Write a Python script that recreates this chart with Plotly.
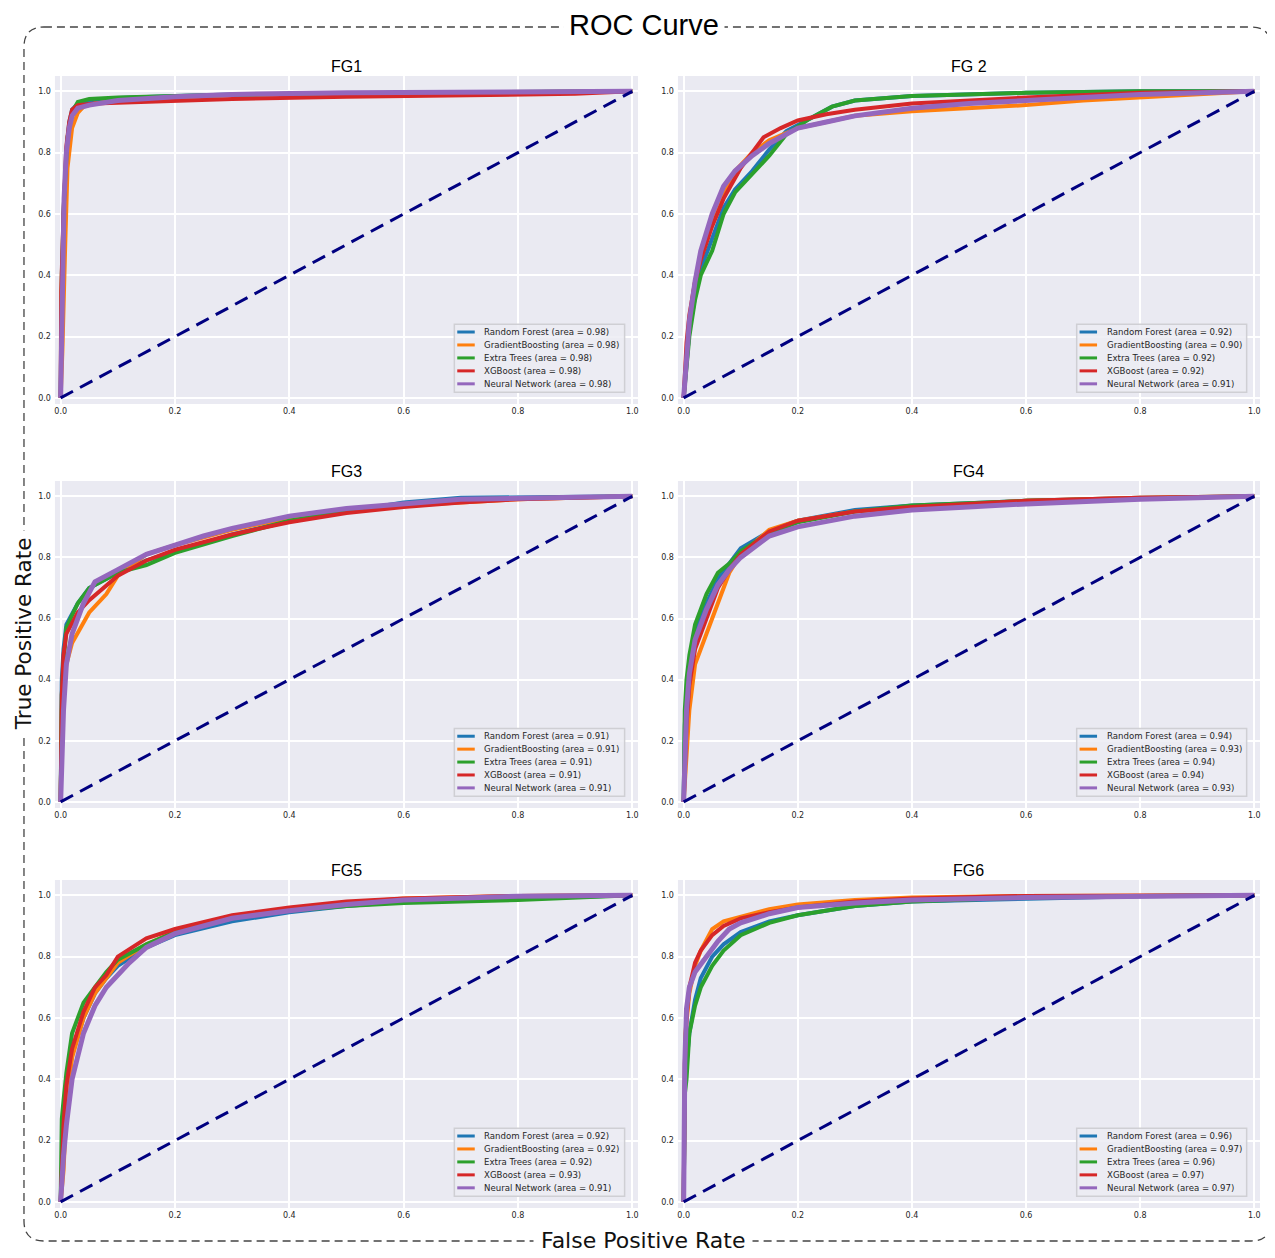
import plotly.graph_objects as go

# ---------------- data ----------------
MODELS = ["Random Forest", "GradientBoosting", "Extra Trees", "XGBoost", "Neural Network"]
COLORS = ["#1f77b4", "#ff7f0e", "#2ca02c", "#d62728", "#9467bd"]
PANEL_TITLES = ["FG1", "FG 2", "FG3", "FG4", "FG5", "FG6"]

AUC_FG1 = [0.98, 0.98, 0.98, 0.98, 0.98]
AUC_FG2 = [0.92, 0.90, 0.92, 0.92, 0.91]
AUC_FG3 = [0.91, 0.91, 0.91, 0.91, 0.91]
AUC_FG4 = [0.94, 0.93, 0.94, 0.94, 0.93]
AUC_FG5 = [0.92, 0.92, 0.92, 0.93, 0.91]
AUC_FG6 = [0.96, 0.97, 0.96, 0.97, 0.97]

DIAG_X = [0.0, 1.0]
DIAG_Y = [0.0, 1.0]
X_TICKS = [0.0, 0.2, 0.4, 0.6, 0.8, 1.0]
Y_TICKS = [0.0, 0.2, 0.4, 0.6, 0.8, 1.0]
X_TICK_LABELS = ["0.0", "0.2", "0.4", "0.6", "0.8", "1.0"]
Y_TICK_LABELS = ["0.0", "0.2", "0.4", "0.6", "0.8", "1.0"]

# FG1
FG1_RF_X = [0, 0.002, 0.005, 0.01, 0.015, 0.02, 0.03, 0.05, 0.1, 0.2, 0.3, 0.5, 0.7, 1.0]
FG1_RF_Y = [0, 0.30, 0.60, 0.80, 0.90, 0.94, 0.96, 0.97, 0.978, 0.985, 0.99, 0.994, 0.997, 1.0]
FG1_GB_X = [0, 0.003, 0.008, 0.012, 0.02, 0.03, 0.04, 0.06, 0.1, 0.2, 0.3, 0.5, 0.8, 1.0]
FG1_GB_Y = [0, 0.15, 0.50, 0.75, 0.88, 0.93, 0.95, 0.96, 0.97, 0.98, 0.988, 0.993, 0.997, 1.0]
FG1_ET_X = [0, 0.002, 0.006, 0.012, 0.02, 0.03, 0.05, 0.1, 0.2, 0.4, 0.7, 1.0]
FG1_ET_Y = [0, 0.40, 0.65, 0.85, 0.93, 0.965, 0.975, 0.98, 0.985, 0.992, 0.997, 1.0]
FG1_XGB_X = [0, 0.001, 0.005, 0.01, 0.015, 0.02, 0.03, 0.06, 0.1, 0.2, 0.3, 0.5, 0.7, 0.9, 1.0]
FG1_XGB_Y = [0, 0.35, 0.60, 0.82, 0.90, 0.94, 0.955, 0.96, 0.963, 0.97, 0.975, 0.982, 0.988, 0.992, 1.0]
FG1_NN_X = [0, 0.003, 0.006, 0.01, 0.015, 0.02, 0.03, 0.05, 0.1, 0.2, 0.3, 0.5, 0.8, 1.0]
FG1_NN_Y = [0, 0.45, 0.65, 0.80, 0.88, 0.92, 0.945, 0.955, 0.97, 0.982, 0.99, 0.995, 0.998, 1.0]

# FG2
FG2_RF_X = [0, 0.005, 0.01, 0.02, 0.03, 0.05, 0.07, 0.09, 0.12, 0.15, 0.18, 0.22, 0.26, 0.3, 0.4, 0.6, 0.8, 1.0]
FG2_RF_Y = [0, 0.12, 0.22, 0.33, 0.42, 0.52, 0.62, 0.68, 0.74, 0.81, 0.87, 0.91, 0.95, 0.97, 0.985, 0.995, 1.0, 1.0]
FG2_GB_X = [0, 0.005, 0.01, 0.02, 0.03, 0.05, 0.07, 0.09, 0.12, 0.15, 0.2, 0.25, 0.3, 0.4, 0.5, 0.6, 0.7, 0.8, 0.9, 1.0]
FG2_GB_Y = [0, 0.15, 0.25, 0.38, 0.46, 0.57, 0.66, 0.74, 0.80, 0.84, 0.88, 0.90, 0.92, 0.935, 0.945, 0.955, 0.97, 0.98, 0.99, 1.0]
FG2_ET_X = [0, 0.005, 0.01, 0.02, 0.03, 0.05, 0.07, 0.09, 0.12, 0.15, 0.18, 0.22, 0.26, 0.3, 0.4, 0.6, 0.8, 1.0]
FG2_ET_Y = [0, 0.10, 0.20, 0.32, 0.40, 0.48, 0.60, 0.67, 0.73, 0.79, 0.86, 0.91, 0.95, 0.97, 0.985, 0.995, 1.0, 1.0]
FG2_XGB_X = [0, 0.005, 0.01, 0.02, 0.03, 0.05, 0.07, 0.1, 0.12, 0.14, 0.17, 0.2, 0.25, 0.3, 0.4, 0.6, 0.8, 1.0]
FG2_XGB_Y = [0, 0.18, 0.27, 0.38, 0.45, 0.56, 0.65, 0.75, 0.80, 0.85, 0.88, 0.905, 0.925, 0.94, 0.96, 0.98, 0.995, 1.0]
FG2_NN_X = [0, 0.005, 0.01, 0.02, 0.03, 0.05, 0.07, 0.09, 0.12, 0.15, 0.2, 0.25, 0.3, 0.4, 0.5, 0.6, 0.8, 1.0]
FG2_NN_Y = [0, 0.15, 0.25, 0.38, 0.48, 0.60, 0.69, 0.74, 0.79, 0.83, 0.88, 0.90, 0.92, 0.945, 0.96, 0.97, 0.99, 1.0]

# FG3
FG3_RF_X = [0, 0.002, 0.005, 0.01, 0.03, 0.05, 0.1, 0.15, 0.2, 0.3, 0.4, 0.5, 0.6, 0.7, 1.0]
FG3_RF_Y = [0, 0.40, 0.50, 0.58, 0.65, 0.70, 0.75, 0.79, 0.82, 0.875, 0.92, 0.95, 0.98, 0.995, 1.0]
FG3_GB_X = [0, 0.002, 0.005, 0.01, 0.02, 0.05, 0.08, 0.1, 0.15, 0.2, 0.3, 0.4, 0.5, 0.6, 0.7, 0.8, 1.0]
FG3_GB_Y = [0, 0.30, 0.38, 0.45, 0.52, 0.62, 0.68, 0.74, 0.81, 0.84, 0.89, 0.93, 0.95, 0.97, 0.98, 0.99, 1.0]
FG3_ET_X = [0, 0.002, 0.005, 0.01, 0.03, 0.05, 0.1, 0.15, 0.2, 0.3, 0.4, 0.5, 0.6, 0.7, 1.0]
FG3_ET_Y = [0, 0.35, 0.45, 0.57, 0.65, 0.70, 0.75, 0.775, 0.815, 0.87, 0.92, 0.95, 0.975, 0.99, 1.0]
FG3_XGB_X = [0, 0.002, 0.005, 0.01, 0.03, 0.05, 0.1, 0.15, 0.2, 0.3, 0.4, 0.5, 0.6, 0.7, 0.8, 1.0]
FG3_XGB_Y = [0, 0.35, 0.48, 0.55, 0.62, 0.66, 0.74, 0.79, 0.825, 0.875, 0.915, 0.945, 0.965, 0.98, 0.99, 1.0]
FG3_NN_X = [0, 0.002, 0.005, 0.01, 0.02, 0.04, 0.06, 0.1, 0.15, 0.2, 0.25, 0.3, 0.4, 0.5, 0.6, 0.7, 1.0]
FG3_NN_Y = [0, 0.20, 0.30, 0.45, 0.55, 0.65, 0.72, 0.76, 0.81, 0.84, 0.87, 0.895, 0.935, 0.96, 0.975, 0.99, 1.0]

# FG4
FG4_RF_X = [0, 0.002, 0.005, 0.01, 0.02, 0.04, 0.06, 0.08, 0.1, 0.15, 0.2, 0.3, 0.4, 0.6, 0.8, 1.0]
FG4_RF_Y = [0, 0.25, 0.35, 0.45, 0.55, 0.65, 0.73, 0.78, 0.83, 0.885, 0.92, 0.955, 0.97, 0.985, 0.995, 1.0]
FG4_GB_X = [0, 0.002, 0.005, 0.01, 0.02, 0.04, 0.06, 0.08, 0.1, 0.15, 0.2, 0.3, 0.4, 0.6, 0.8, 1.0]
FG4_GB_Y = [0, 0.05, 0.15, 0.30, 0.45, 0.55, 0.65, 0.75, 0.81, 0.89, 0.92, 0.95, 0.965, 0.985, 0.995, 1.0]
FG4_ET_X = [0, 0.002, 0.005, 0.01, 0.02, 0.04, 0.06, 0.08, 0.1, 0.15, 0.2, 0.3, 0.4, 0.6, 0.8, 0.9, 1.0]
FG4_ET_Y = [0, 0.30, 0.40, 0.48, 0.58, 0.68, 0.75, 0.78, 0.82, 0.88, 0.915, 0.95, 0.97, 0.985, 0.993, 0.995, 1.0]
FG4_XGB_X = [0, 0.002, 0.005, 0.01, 0.02, 0.04, 0.06, 0.08, 0.1, 0.15, 0.2, 0.3, 0.4, 0.6, 0.8, 1.0]
FG4_XGB_Y = [0, 0.15, 0.25, 0.38, 0.50, 0.60, 0.70, 0.76, 0.81, 0.885, 0.92, 0.95, 0.965, 0.985, 0.995, 1.0]
FG4_NN_X = [0, 0.002, 0.005, 0.01, 0.02, 0.04, 0.06, 0.08, 0.1, 0.15, 0.2, 0.3, 0.4, 0.6, 0.8, 1.0]
FG4_NN_Y = [0, 0.20, 0.30, 0.42, 0.53, 0.63, 0.71, 0.76, 0.80, 0.87, 0.90, 0.935, 0.955, 0.975, 0.99, 1.0]

# FG5
FG5_RF_X = [0, 0.002, 0.005, 0.01, 0.02, 0.04, 0.06, 0.08, 0.1, 0.15, 0.2, 0.3, 0.4, 0.5, 0.6, 0.8, 1.0]
FG5_RF_Y = [0, 0.12, 0.20, 0.35, 0.48, 0.60, 0.68, 0.73, 0.77, 0.83, 0.87, 0.915, 0.945, 0.965, 0.98, 0.99, 1.0]
FG5_GB_X = [0, 0.002, 0.005, 0.01, 0.02, 0.04, 0.06, 0.08, 0.1, 0.15, 0.2, 0.3, 0.4, 0.5, 0.6, 0.8, 1.0]
FG5_GB_Y = [0, 0.05, 0.10, 0.30, 0.47, 0.60, 0.68, 0.73, 0.78, 0.84, 0.88, 0.925, 0.955, 0.975, 0.99, 0.998, 1.0]
FG5_ET_X = [0, 0.002, 0.005, 0.01, 0.02, 0.04, 0.06, 0.08, 0.1, 0.15, 0.2, 0.3, 0.4, 0.5, 0.6, 0.8, 1.0]
FG5_ET_Y = [0, 0.27, 0.33, 0.42, 0.55, 0.65, 0.70, 0.75, 0.79, 0.84, 0.88, 0.93, 0.95, 0.965, 0.975, 0.985, 1.0]
FG5_XGB_X = [0, 0.002, 0.005, 0.01, 0.02, 0.04, 0.06, 0.08, 0.1, 0.15, 0.2, 0.3, 0.4, 0.5, 0.6, 0.8, 1.0]
FG5_XGB_Y = [0, 0.15, 0.25, 0.38, 0.50, 0.62, 0.70, 0.74, 0.80, 0.86, 0.89, 0.935, 0.96, 0.98, 0.99, 0.998, 1.0]
FG5_NN_X = [0, 0.002, 0.005, 0.01, 0.02, 0.04, 0.06, 0.08, 0.1, 0.12, 0.15, 0.2, 0.3, 0.4, 0.5, 0.6, 0.8, 1.0]
FG5_NN_Y = [0, 0.08, 0.15, 0.25, 0.40, 0.55, 0.64, 0.70, 0.74, 0.78, 0.83, 0.875, 0.925, 0.95, 0.97, 0.985, 0.997, 1.0]

# FG6
FG6_RF_X = [0, 0.002, 0.005, 0.01, 0.02, 0.03, 0.05, 0.07, 0.1, 0.15, 0.2, 0.3, 0.4, 0.6, 0.8, 1.0]
FG6_RF_Y = [0, 0.38, 0.45, 0.55, 0.66, 0.73, 0.80, 0.84, 0.88, 0.915, 0.935, 0.965, 0.98, 0.99, 0.997, 1.0]
FG6_GB_X = [0, 0.001, 0.003, 0.01, 0.02, 0.03, 0.05, 0.07, 0.1, 0.15, 0.2, 0.3, 0.4, 0.6, 1.0]
FG6_GB_Y = [0, 0.40, 0.55, 0.68, 0.77, 0.82, 0.89, 0.915, 0.93, 0.955, 0.97, 0.985, 0.993, 0.998, 1.0]
FG6_ET_X = [0, 0.002, 0.005, 0.01, 0.02, 0.03, 0.05, 0.07, 0.1, 0.15, 0.2, 0.3, 0.4, 0.6, 0.8, 1.0]
FG6_ET_Y = [0, 0.35, 0.40, 0.55, 0.64, 0.70, 0.77, 0.82, 0.87, 0.91, 0.935, 0.965, 0.98, 0.993, 0.998, 1.0]
FG6_XGB_X = [0, 0.002, 0.005, 0.01, 0.02, 0.03, 0.05, 0.07, 0.1, 0.15, 0.2, 0.3, 0.4, 0.6, 1.0]
FG6_XGB_Y = [0, 0.45, 0.60, 0.70, 0.78, 0.82, 0.87, 0.90, 0.925, 0.945, 0.96, 0.98, 0.99, 0.998, 1.0]
FG6_NN_X = [0, 0.002, 0.005, 0.01, 0.02, 0.04, 0.06, 0.08, 0.1, 0.15, 0.2, 0.3, 0.4, 0.6, 0.8, 1.0]
FG6_NN_Y = [0, 0.45, 0.63, 0.70, 0.75, 0.80, 0.85, 0.89, 0.91, 0.94, 0.96, 0.975, 0.985, 0.993, 0.997, 1.0]

PANELS = [
    (AUC_FG1, [(FG1_RF_X, FG1_RF_Y), (FG1_GB_X, FG1_GB_Y), (FG1_ET_X, FG1_ET_Y), (FG1_XGB_X, FG1_XGB_Y), (FG1_NN_X, FG1_NN_Y)]),
    (AUC_FG2, [(FG2_RF_X, FG2_RF_Y), (FG2_GB_X, FG2_GB_Y), (FG2_ET_X, FG2_ET_Y), (FG2_XGB_X, FG2_XGB_Y), (FG2_NN_X, FG2_NN_Y)]),
    (AUC_FG3, [(FG3_RF_X, FG3_RF_Y), (FG3_GB_X, FG3_GB_Y), (FG3_ET_X, FG3_ET_Y), (FG3_XGB_X, FG3_XGB_Y), (FG3_NN_X, FG3_NN_Y)]),
    (AUC_FG4, [(FG4_RF_X, FG4_RF_Y), (FG4_GB_X, FG4_GB_Y), (FG4_ET_X, FG4_ET_Y), (FG4_XGB_X, FG4_XGB_Y), (FG4_NN_X, FG4_NN_Y)]),
    (AUC_FG5, [(FG5_RF_X, FG5_RF_Y), (FG5_GB_X, FG5_GB_Y), (FG5_ET_X, FG5_ET_Y), (FG5_XGB_X, FG5_XGB_Y), (FG5_NN_X, FG5_NN_Y)]),
    (AUC_FG6, [(FG6_RF_X, FG6_RF_Y), (FG6_GB_X, FG6_GB_Y), (FG6_ET_X, FG6_ET_Y), (FG6_XGB_X, FG6_XGB_Y), (FG6_NN_X, FG6_NN_Y)]),
]

# ---------------- layout / style ----------------
OFF = 8  # page body margin of the html page
W, H = 1275, 1258
BG = "#EAEAF2"
TXT = "#262626"
COL_PX = [(54, 638), (678, 1261)]
ROW_PX = [(76, 404), (481, 808), (880, 1208)]
LINE_W = [4, 4, 4, 4, 5]


def px_x(p):
    return (p - OFF) / W


def px_y(p):
    return 1 - (p - OFF) / H


fig = go.Figure()
layout = dict(
    width=W, height=H,
    margin=dict(l=0, r=0, t=0, b=0),
    paper_bgcolor="white", plot_bgcolor=BG,
    showlegend=False,
    font=dict(family="DejaVu Sans", color=TXT),
)
shapes = []
annotations = []

for i, (aucs, curves) in enumerate(PANELS):
    n = i + 1
    r, c = i // 2, i % 2
    xs = "" if n == 1 else str(n)
    x0p, x1p = COL_PX[c]
    y0p, y1p = ROW_PX[r]
    layout["xaxis" + xs] = dict(
        domain=[px_x(x0p), px_x(x1p)], anchor="y" + xs, range=[-0.01, 1.01],
        tickvals=X_TICKS, ticktext=X_TICK_LABELS, showgrid=True, gridcolor="white",
        gridwidth=1.5, zeroline=False, showline=False, ticks="",
        tickfont=dict(family="DejaVu Sans", size=8, color=TXT), ticklabelstandoff=1,
    )
    layout["yaxis" + xs] = dict(
        domain=[px_y(y1p), px_y(y0p)], anchor="x" + xs, range=[-0.02, 1.05],
        tickvals=Y_TICKS, ticktext=Y_TICK_LABELS, showgrid=True, gridcolor="white",
        gridwidth=1.5, zeroline=False, showline=False, ticks="",
        tickfont=dict(family="DejaVu Sans", size=8, color=TXT), ticklabelstandoff=3,
    )
    for k, (fx, ty) in enumerate(curves):
        fig.add_trace(go.Scatter(
            x=fx, y=ty, mode="lines", xaxis="x" + xs, yaxis="y" + xs,
            line=dict(color=COLORS[k], width=LINE_W[k]),
            name=f"{MODELS[k]} (area = {aucs[k]:.2f})",
        ))
    fig.add_trace(go.Scatter(
        x=DIAG_X, y=DIAG_Y, mode="lines", xaxis="x" + xs, yaxis="y" + xs,
        line=dict(color="navy", width=3, dash="14px,8px"), name="chance",
    ))
    xr = f"x{n} domain" if n > 1 else "x domain"
    yr = f"y{n} domain" if n > 1 else "y domain"
    # subplot title
    annotations.append(dict(
        text=PANEL_TITLES[i], xref=xr, yref=yr, x=0.5, y=1.0,
        xanchor="center", yanchor="bottom", showarrow=False, yshift=-1,
        font=dict(family="Liberation Sans", size=16, color="black"),
    ))
    # legend (drawn per panel, lower right)
    shapes.append(dict(
        type="rect", xref=xr, yref=yr, x0=0.685, x1=0.977, y0=0.036, y1=0.243,
        line=dict(color="#cfcfd4", width=1.5), fillcolor="rgba(236,236,243,0.85)",
        layer="above",
    ))
    for k in range(5):
        yy = 0.2195 - k * 0.0395
        shapes.append(dict(
            type="line", xref=xr, yref=yr, x0=0.690, x1=0.720, y0=yy, y1=yy,
            line=dict(color=COLORS[k], width=3), layer="above",
        ))
        annotations.append(dict(
            text=f"{MODELS[k]} (area = {aucs[k]:.2f})", xref=xr, yref=yr,
            x=0.733, y=yy, xanchor="left", yanchor="middle", showarrow=False,
            font=dict(family="DejaVu Sans", size=8.6, color=TXT),
        ))

# rounded dashed frame
L, R, T, B = px_x(23), px_x(1272), px_y(27), px_y(1241)
rx, ry = 20 / W, 20 / H
path = (f"M {L+rx},{T} L {R-rx},{T} Q {R},{T} {R},{T-ry} L {R},{B+ry} "
        f"Q {R},{B} {R-rx},{B} L {L+rx},{B} Q {L},{B} {L},{B+ry} "
        f"L {L},{T-ry} Q {L},{T} {L+rx},{T} Z")
shapes.append(dict(type="path", xref="paper", yref="paper", path=path,
                   line=dict(color="#444444", width=1.3, dash="8px,5px"), layer="below"))

annotations.append(dict(
    text="ROC Curve", xref="paper", yref="paper", x=px_x(644), y=px_y(25),
    xanchor="center", yanchor="middle", showarrow=False, bgcolor="white", borderpad=5,
    font=dict(family="Liberation Sans", size=29, color="black"),
))
annotations.append(dict(
    text=" False Positive Rate ", xref="paper", yref="paper", x=px_x(643), y=px_y(1240),
    xanchor="center", yanchor="middle", showarrow=False, bgcolor="white", borderpad=0,
    font=dict(family="DejaVu Sans", size=22, color="#111111"),
))
annotations.append(dict(
    text=" True Positive Rate ", xref="paper", yref="paper", x=px_x(22), y=px_y(633),
    xanchor="center", yanchor="middle", showarrow=False, bgcolor="white", borderpad=0,
    textangle=-90, font=dict(family="DejaVu Sans", size=21.5, color="#111111"),
))

layout["shapes"] = shapes
layout["annotations"] = annotations
fig.update_layout(**layout)
fig.write_html("out.html")
